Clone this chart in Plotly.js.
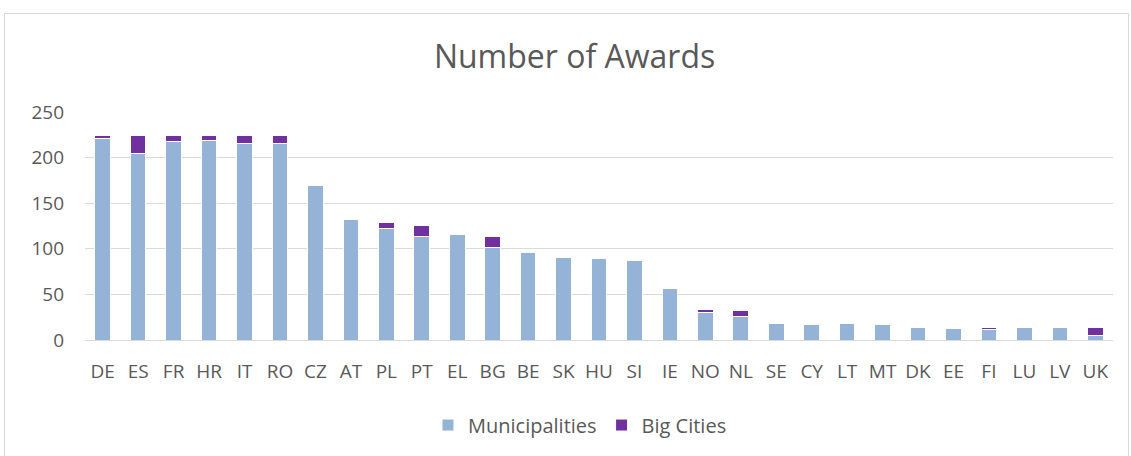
<!DOCTYPE html>
<html><head><meta charset="utf-8">
<script src="https://cdn.plot.ly/plotly-3.0.1.min.js"></script>
<style>
html,body{margin:0;padding:0;background:#fff;overflow:hidden;}
#chart{position:absolute;left:0;top:0;width:1131px;height:456px;}
#frame{position:absolute;left:4px;top:13px;width:1123px;height:460px;border:1px solid #D9D9D9;pointer-events:none;}
</style></head>
<body>
<div id="chart"></div>
<div id="frame"></div>
<script>
const countries = ["DE","ES","FR","HR","IT","RO","CZ","AT","PL","PT","EL","BG","BE","SK","HU","SI","IE","NO","NL","SE","CY","LT","MT","DK","EE","FI","LU","LV","UK"];
const municipalities = [221,205,218,219,215,215,169,132,122,113,116,101,96,91,89,87,57,30,26,18,17,18,17,14,13,12,14,14,5];
const bigCities = [3,19,6,5,9,9,0,1,7,13,0,12,0,1,1,1,1,3,6,1,1,0,0,0,1,2,0,0,9];

const font = {family:"Open Sans, Lato, sans-serif", color:"#595959"};
const traces = [
  {type:"bar", name:"Municipalities", x:countries, y:municipalities,
   marker:{color:"#95B3D7", line:{color:"#FFFFFF", width:1}}},
  {type:"bar", name:"Big Cities", x:countries, y:bigCities,
   marker:{color:"#7030A0", line:{color:"#FFFFFF", width:1}}}
];
const layout = {
  width:1131, height:456, barmode:"stack", bargap:0.56,
  paper_bgcolor:"rgba(0,0,0,0)", plot_bgcolor:"#fff",
  margin:{l:85, r:18, t:112, b:116},
  title:{text:"Number of Awards", x:0.508, xanchor:"center", y:0.876, yanchor:"middle",
         font:{family:"Open Sans, sans-serif", size:32, color:"#595959"}},
  xaxis:{type:"category", tickfont:{...font, size:19}, showgrid:false, ticks:"", showline:false, zeroline:false, ticklabelstandoff:18},
  yaxis:{range:[0,250], tickvals:[0,50,100,150,200,250], tickfont:{...font, size:19},
         gridcolor:"#D9D9D9", gridwidth:1, zeroline:true, zerolinecolor:"#D9D9D9", zerolinewidth:1, ticks:"", ticklabelstandoff:20},
  legend:{orientation:"h", x:0.4815, xanchor:"center", y:-0.373, yanchor:"middle", font:{...font, size:20}, traceorder:"normal", itemwidth:30},
  showlegend:true
};
Plotly.newPlot("chart", traces, layout, {displayModeBar:false, staticPlot:true});
</script>
</body></html>
